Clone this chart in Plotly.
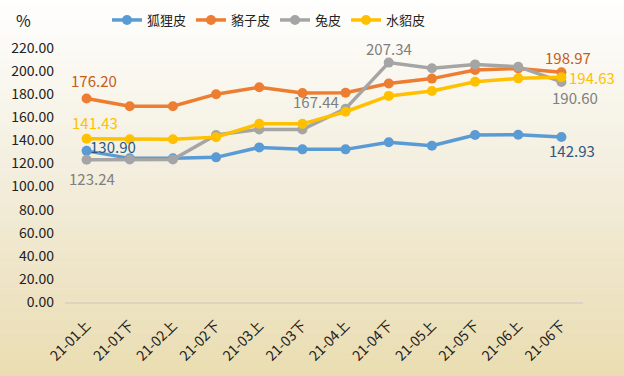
import plotly.graph_objects as go

categories = ["21-01上", "21-01下", "21-02上", "21-02下", "21-03上", "21-03下",
              "21-04上", "21-04下", "21-05上", "21-05下", "21-06上", "21-06下"]
fox = [130.90, 124.4, 124.4, 125.3, 133.9, 132.2, 132.2, 138.3, 135.3, 144.6, 144.8, 142.93]
raccoon = [176.20, 169.5, 169.5, 180.0, 186.0, 181.0, 181.2, 189.3, 193.5, 201.0, 202.3, 198.97]
rabbit = [123.24, 123.5, 123.5, 144.6, 149.5, 149.5, 167.44, 207.34, 202.5, 205.8, 203.8, 190.60]
mink = [141.43, 141.0, 141.0, 142.8, 154.3, 154.3, 164.8, 178.5, 182.8, 190.8, 193.7, 194.63]
y_ticks = [0, 20, 40, 60, 80, 100, 120, 140, 160, 180, 200, 220]

W, H = 624, 376
L, R, T, B = 65, 41, 48, 74
pw, ph = W - L - R, H - T - B
FONT = "Noto Sans CJK SC"

n = len(categories)
# name, values, line colour, label colour, {index: (xshift, yshift)}
series = [
    ("狐狸皮", fox, "#5b9bd5", "#2b5a85", {0: (26, 4), 11: (11, -14)}),
    ("貉子皮", raccoon, "#ed7d31", "#c65c17", {0: (7, 18), 11: (7, 15)}),
    ("兔皮", rabbit, "#a5a5a5", "#7f7f7f", {0: (5, -19), 6: (-30, 7), 7: (0, 14), 11: (14, -16)}),
    ("水貂皮", mink, "#ffc000", "#ffc000", {0: (8, 16), 11: (31, 0)}),
]

fig = go.Figure()
for name, vals, col, tcol, lab in series:
    fig.add_trace(go.Scatter(
        x=categories, y=vals, name=name, mode="lines+markers",
        line=dict(color=col, width=3.5),
        marker=dict(color=col, size=10),
        cliponaxis=False,
    ))
    for i, (dx, dy) in lab.items():
        fig.add_annotation(x=categories[i], y=vals[i], xref="x", yref="y",
                           text=f"{vals[i]:.2f}", showarrow=False,
                           xshift=dx, yshift=dy,
                           font=dict(color=tcol, size=15, family=FONT))

# background gradient
steps = 60
x0p, x1p = -L / pw, 1 + R / pw
top_c = (254, 254, 253)
mid_c = (243, 238, 222)
bot_c = (234, 221, 178)
for s in range(steps):
    f = s / (steps - 1)
    py0 = s * H / steps
    py1 = (s + 1) * H / steps + 0.5
    if f < 0.45:
        g = f / 0.45
        c = [top_c[k] + (mid_c[k] - top_c[k]) * g for k in range(3)]
    else:
        g = (f - 0.45) / 0.55
        c = [mid_c[k] + (bot_c[k] - mid_c[k]) * g for k in range(3)]
    fig.add_shape(type="rect", xref="paper", yref="paper", layer="below",
                  x0=x0p, x1=x1p,
                  y0=(H - B - py1) / ph, y1=(H - B - py0) / ph,
                  fillcolor="rgb(%d,%d,%d)" % tuple(int(round(v)) for v in c),
                  line=dict(width=0))

fig.add_annotation(text="%", xref="paper", yref="paper",
                   x=(23 - L) / pw, y=(H - B - 20) / ph,
                   xanchor="center", yanchor="middle",
                   showarrow=False, font=dict(size=16, color="#222", family=FONT))

fig.update_layout(
    width=W, height=H,
    margin=dict(l=L, r=R, t=T, b=B, autoexpand=False),
    paper_bgcolor="rgba(0,0,0,0)", plot_bgcolor="rgba(0,0,0,0)",
    font=dict(family=FONT, color="#222"),
    showlegend=True,
    legend=dict(orientation="h", xref="container", yref="container",
                x=269 / W, xanchor="center",
                y=1 - 20 / H, yanchor="middle",
                font=dict(size=13, color="#222", family=FONT),
                itemwidth=30, tracegroupgap=0, bgcolor="rgba(0,0,0,0)"),
    xaxis=dict(type="category", range=[-0.5, n - 0.5], tickangle=-45,
               showgrid=False, showline=True, linecolor="#dcd3c2", linewidth=1.5,
               ticks="", ticklabelstandoff=8, automargin=False,
               tickfont=dict(size=14, color="#222", family=FONT)),
    yaxis=dict(range=[0, 220], tickvals=y_ticks,
               ticktext=[f"{v:.2f}" for v in y_ticks],
               showgrid=False, zeroline=False, showline=False, ticks="",
               ticklabelstandoff=10, automargin=False,
               tickfont=dict(size=14, color="#222", family=FONT)),
)

fig.write_html("out.html", config={"displayModeBar": False},
               post_script="document.body.style.margin='0';")
